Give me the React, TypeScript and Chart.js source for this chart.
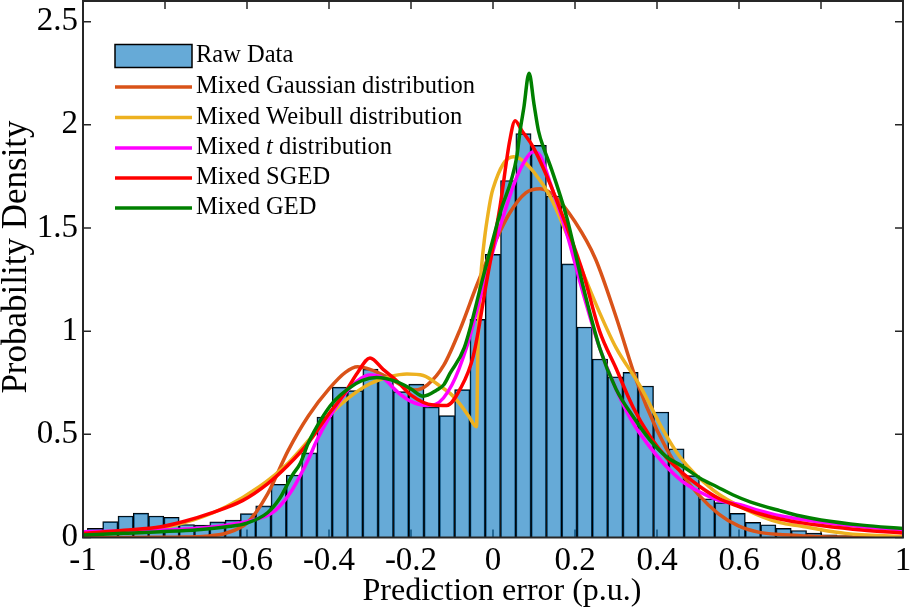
import React, { useEffect, useRef } from 'react';
import { Chart, registerables } from 'chart.js';

Chart.register(...registerables);

// Histogram bins (left edge of first bin and bin width, in p.u.)
const BIN_START = -0.9893;
const BIN_WIDTH = 0.03732;
const rawDensity = [
  0.044, 0.077, 0.104, 0.118, 0.104, 0.098, 0.063, 0.060, 0.076, 0.084,
  0.116, 0.153, 0.258, 0.303, 0.410, 0.583, 0.729, 0.712, 0.816, 0.770,
  0.707, 0.743, 0.633, 0.591, 0.717, 1.057, 1.372, 1.730, 1.957, 1.900,
  1.655, 1.326, 1.020, 0.865, 0.779, 0.800, 0.734, 0.608, 0.430, 0.300,
  0.188, 0.169, 0.117, 0.073, 0.062, 0.044, 0.034, 0.021, 0.013, 0.009,
  0.006, 0.004, 0.002,
];

// Mixed Gaussian
const gaussX = [-1, -0.9, -0.8, -0.75, -0.7, -0.65, -0.6, -0.55, -0.5, -0.45, -0.4, -0.36, -0.33, -0.3, -0.26, -0.22, -0.19, -0.16, -0.12, -0.08, -0.04, 0, 0.04, 0.08, 0.115, 0.15, 0.2, 0.25, 0.3, 0.35, 0.4, 0.45, 0.5, 0.55, 0.6, 0.65, 0.7, 0.75, 0.8, 0.9, 1];
const gaussY = [0, 0, 0.001, 0.002, 0.006, 0.022, 0.07, 0.21, 0.42, 0.59, 0.72, 0.80, 0.827, 0.815, 0.78, 0.735, 0.715, 0.74, 0.835, 1.01, 1.22, 1.41, 1.57, 1.67, 1.69, 1.655, 1.53, 1.35, 1.07, 0.76, 0.52, 0.34, 0.21, 0.115, 0.055, 0.025, 0.014, 0.009, 0.004, 0.001, 0];

// Mixed Weibull
const weibX = [-1, -0.9, -0.81, -0.73, -0.65, -0.57, -0.5, -0.45, -0.4, -0.35, -0.3, -0.25, -0.21, -0.17, -0.13, -0.1, -0.08, -0.06, -0.04, -0.037, -0.033, -0.028, -0.02, -0.012, -0.005, 0, 0.025, 0.05, 0.066, 0.1, 0.14, 0.18, 0.22, 0.26, 0.3, 0.36, 0.415, 0.456, 0.537, 0.62, 0.7, 0.75, 0.78, 0.86, 1];
const weibY = [0.017, 0.03, 0.045, 0.085, 0.15, 0.246, 0.36, 0.47, 0.59, 0.68, 0.745, 0.78, 0.792, 0.785, 0.735, 0.69, 0.645, 0.59, 0.537, 0.9, 1.15, 1.31, 1.46, 1.57, 1.65, 1.69, 1.81, 1.845, 1.836, 1.77, 1.65, 1.47, 1.28, 1.09, 0.92, 0.73, 0.52, 0.39, 0.23, 0.133, 0.072, 0.056, 0.045, 0.02, 0.005];

// Mixed t
const tX = [-1, -0.9, -0.81, -0.72, -0.65, -0.57, -0.53, -0.49, -0.45, -0.43, -0.4, -0.36, -0.33, -0.3, -0.27, -0.23, -0.2, -0.16, -0.14, -0.1, -0.064, -0.024, 0.017, 0.058, 0.09, 0.1, 0.115, 0.14, 0.18, 0.22, 0.26, 0.3, 0.34, 0.38, 0.42, 0.46, 0.5, 0.55, 0.6, 0.65, 0.7, 0.75, 0.8, 0.9, 1];
const tY = [0.028, 0.032, 0.036, 0.045, 0.06, 0.093, 0.133, 0.23, 0.38, 0.47, 0.58, 0.70, 0.76, 0.787, 0.775, 0.70, 0.66, 0.64, 0.645, 0.74, 0.924, 1.215, 1.505, 1.747, 1.86, 1.87, 1.85, 1.715, 1.473, 1.183, 0.92, 0.72, 0.56, 0.445, 0.35, 0.275, 0.225, 0.18, 0.16, 0.13, 0.105, 0.088, 0.075, 0.052, 0.036];

// Mixed SGED
const sgedX = [-1, -0.9, -0.81, -0.75, -0.69, -0.61, -0.55, -0.5, -0.45, -0.4, -0.365, -0.33, -0.3, -0.268, -0.235, -0.2, -0.146, -0.113, -0.08, -0.048, -0.015, 0.017, 0.041, 0.054, 0.07, 0.098, 0.139, 0.18, 0.22, 0.26, 0.3, 0.342, 0.383, 0.424, 0.464, 0.505, 0.55, 0.6, 0.65, 0.7, 0.75, 0.8, 0.9, 1];
const sgedY = [0.02, 0.035, 0.052, 0.08, 0.117, 0.18, 0.26, 0.35, 0.46, 0.60, 0.69, 0.80, 0.87, 0.815, 0.76, 0.69, 0.642, 0.64, 0.72, 0.88, 1.247, 1.602, 1.925, 2.02, 1.973, 1.892, 1.715, 1.505, 1.28, 1.0, 0.82, 0.63, 0.49, 0.385, 0.31, 0.246, 0.19, 0.15, 0.115, 0.09, 0.072, 0.058, 0.036, 0.022];

// Mixed GED
const gedX = [-1, -0.9, -0.81, -0.72, -0.65, -0.6, -0.55, -0.52, -0.49, -0.47, -0.45, -0.42, -0.39, -0.35, -0.32, -0.284, -0.235, -0.2, -0.17, -0.137, -0.12, -0.105, -0.07, -0.024, 0.017, 0.058, 0.066, 0.075, 0.088, 0.1, 0.111, 0.125, 0.14, 0.18, 0.22, 0.26, 0.3, 0.342, 0.383, 0.424, 0.464, 0.505, 0.546, 0.586, 0.627, 0.7, 0.75, 0.8, 0.9, 1];
const gedY = [0.012, 0.02, 0.028, 0.038, 0.052, 0.07, 0.12, 0.19, 0.30, 0.36, 0.46, 0.57, 0.655, 0.725, 0.76, 0.775, 0.755, 0.72, 0.685, 0.715, 0.74, 0.795, 0.92, 1.263, 1.57, 1.845, 1.97, 2.08, 2.25, 2.1, 1.97, 1.88, 1.8, 1.55, 1.215, 0.92, 0.72, 0.585, 0.472, 0.39, 0.343, 0.287, 0.246, 0.206, 0.173, 0.13, 0.104, 0.085, 0.06, 0.044];

const xTicks = [-1, -0.8, -0.6, -0.4, -0.2, 0, 0.2, 0.4, 0.6, 0.8, 1];
const yTicks = [0, 0.5, 1, 1.5, 2, 2.5];

const BAR_FILL = 'rgba(0,114,189,0.6)';
const AXIS = '#262626';
const SERIF = '"Liberation Serif", "Times New Roman", serif';

const curves = [
  { label: 'Mixed Gaussian distribution', parts: [['Mixed Gaussian distribution', false]], xs: gaussX, ys: gaussY, color: '#D95319' },
  { label: 'Mixed Weibull distribution', parts: [['Mixed Weibull distribution', false]], xs: weibX, ys: weibY, color: '#EDB120' },
  { label: 'Mixed t distribution', parts: [['Mixed ', false], ['t', true], [' distribution', false]], xs: tX, ys: tY, color: '#FF00FF' },
  { label: 'Mixed SGED', parts: [['Mixed SGED', false]], xs: sgedX, ys: sgedY, color: '#FF0000' },
  { label: 'Mixed GED', parts: [['Mixed GED', false]], xs: gedX, ys: gedY, color: '#008000' },
];

const framePlugin = {
  id: 'matlabFrame',
  beforeDatasetsDraw(chart: any) {
    const { ctx, chartArea: a, scales } = chart;
    ctx.save();
    ctx.strokeStyle = AXIS;
    ctx.lineWidth = 1.5;
    const tl = 8;
    ctx.beginPath();
    xTicks.forEach((v) => {
      const px = scales.x.getPixelForValue(v);
      ctx.moveTo(px, a.bottom);
      ctx.lineTo(px, a.bottom - tl);
      ctx.moveTo(px, a.top);
      ctx.lineTo(px, a.top + tl);
    });
    yTicks.forEach((v) => {
      const py = scales.y.getPixelForValue(v);
      ctx.moveTo(a.left, py);
      ctx.lineTo(a.left + tl, py);
      ctx.moveTo(a.right, py);
      ctx.lineTo(a.right - tl, py);
    });
    ctx.stroke();
    ctx.restore();
  },
  afterDraw(chart: any) {
    const { ctx, chartArea: a } = chart;
    ctx.save();
    ctx.strokeStyle = AXIS;
    ctx.lineWidth = 2;
    ctx.strokeRect(a.left, a.top, a.right - a.left, a.bottom - a.top);

    // axis titles
    ctx.fillStyle = '#000';
    ctx.font = `32px ${SERIF}`;
    ctx.textAlign = 'center';
    ctx.textBaseline = 'alphabetic';
    ctx.fillText('Prediction error (p.u.)', 502, 600);
    ctx.save();
    ctx.translate(25.5, 257);
    ctx.rotate(-Math.PI / 2);
    ctx.font = `35px ${SERIF}`;
    ctx.fillText('Probability Density', 0, 0);
    ctx.restore();

    // legend
    const x0 = 115;
    const x1 = 192;
    const tx = 196;
    ctx.fillStyle = BAR_FILL;
    ctx.fillRect(x0, 44.5, x1 - x0, 23);
    ctx.strokeStyle = '#000';
    ctx.lineWidth = 1.5;
    ctx.strokeRect(x0, 44.5, x1 - x0, 23);
    ctx.textAlign = 'left';
    ctx.textBaseline = 'middle';
    ctx.fillStyle = '#000';
    ctx.font = `24.5px ${SERIF}`;
    ctx.fillText('Raw Data', tx, 56);
    const rows = [87, 117.5, 148, 178, 208];
    curves.forEach((c, i) => {
      const y = rows[i];
      ctx.strokeStyle = c.color;
      ctx.lineWidth = 3.5;
      ctx.beginPath();
      ctx.moveTo(x0, y);
      ctx.lineTo(x1, y);
      ctx.stroke();
      let cx = tx;
      c.parts.forEach(([txt, it]: any) => {
        ctx.font = `${it ? 'italic ' : ''}24.5px ${SERIF}`;
        ctx.fillStyle = '#000';
        ctx.fillText(txt, cx, y);
        cx += ctx.measureText(txt).width;
      });
    });
    ctx.restore();
  },
};

export default function App() {
  const ref = useRef<HTMLCanvasElement | null>(null);
  useEffect(() => {
    if (!ref.current) return;
    const barData = rawDensity.map((v, i) => ({ x: BIN_START + BIN_WIDTH * (i + 0.5), y: v }));
    const lineSets = curves.map((c, i) => ({
      type: 'line' as const,
      label: c.label,
      data: c.xs.map((x, j) => ({ x, y: c.ys[j] })),
      borderColor: c.color,
      backgroundColor: c.color,
      borderWidth: 3.5,
      pointRadius: 0,
      fill: false,
      cubicInterpolationMode: 'monotone' as const,
      order: 5 - i,
    }));
    const chart = new Chart(ref.current, {
      type: 'bar',
      data: {
        datasets: [
          {
            type: 'bar' as const,
            label: 'Raw Data',
            data: barData as any,
            backgroundColor: BAR_FILL,
            borderColor: '#000',
            borderWidth: 1,
            barPercentage: 1,
            categoryPercentage: 1,
            order: 10,
          },
          ...(lineSets as any),
        ],
      },
      options: {
        responsive: false,
        animation: false,
        devicePixelRatio: 1,
        events: [],
        layout: { padding: { top: 1, right: 7, left: 0, bottom: 0 } },
        plugins: { legend: { display: false }, tooltip: { enabled: false } },
        scales: {
          x: {
            type: 'linear',
            min: -1,
            max: 1,
            offset: false,
            grid: { display: false, drawTicks: false, offset: false },
            border: { display: false },
            afterFit: (s: any) => {
              s.height = 73.5;
              s.paddingLeft = 0;
              s.paddingRight = 0;
            },
            afterBuildTicks: (s: any) => { s.ticks = xTicks.map((v) => ({ value: v })); },
            ticks: {
              autoSkip: false,
              maxRotation: 0,
              padding: 4,
              color: '#000',
              font: { family: SERIF, size: 33 },
              callback: (v: any) => String(Math.round(Number(v) * 10) / 10),
            },
          },
          y: {
            type: 'linear',
            min: 0,
            max: 2.6,
            grid: { display: false, drawTicks: false },
            border: { display: false },
            afterFit: (s: any) => {
              s.width = 83;
              s.paddingTop = 0;
              s.paddingBottom = 0;
            },
            afterBuildTicks: (s: any) => { s.ticks = yTicks.map((v) => ({ value: v })); },
            ticks: {
              padding: 5,
              color: '#000',
              font: { family: SERIF, size: 33 },
              callback: (v: any) => String(Math.round(Number(v) * 10) / 10),
            },
          },
        },
      },
      plugins: [framePlugin],
    });
    return () => chart.destroy();
  }, []);
  return (
    <div style={{ position: 'absolute', left: 0, top: 0, width: 910, height: 611, background: '#fff' }}>
      <canvas ref={ref} width={910} height={611} style={{ width: 910, height: 611, display: 'block' }} />
    </div>
  );
}
